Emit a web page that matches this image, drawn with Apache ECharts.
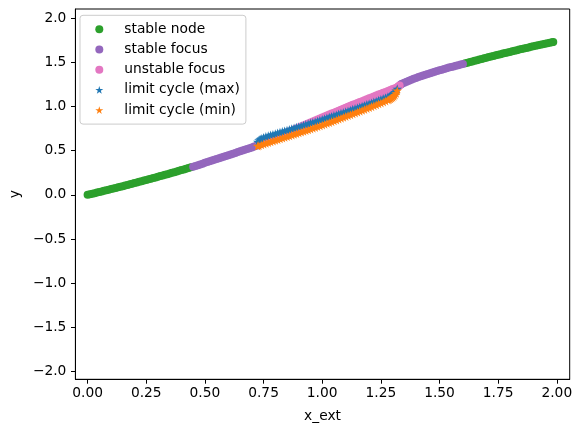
<!DOCTYPE html>
<html>
<head>
<meta charset="utf-8">
<script src="https://cdn.jsdelivr.net/npm/echarts@6/dist/echarts.min.js"></script>
<style>
html,body{margin:0;padding:0;background:#fff;}
#chart{width:582px;height:432px;}
</style>
</head>
<body>
<div id="chart"></div>
<script>
// ---- data ----
const stableNodeLow = [[0.00,0.000],[0.01,0.006],[0.02,0.013],[0.03,0.019],[0.04,0.025],[0.05,0.032],[0.06,0.038],[0.07,0.045],[0.08,0.052],[0.09,0.058],[0.10,0.065],[0.11,0.071],[0.12,0.078],[0.13,0.085],[0.14,0.092],[0.15,0.098],[0.16,0.105],[0.17,0.112],[0.18,0.119],[0.19,0.126],[0.20,0.133],[0.21,0.140],[0.22,0.147],[0.23,0.154],[0.24,0.161],[0.25,0.168],[0.26,0.176],[0.27,0.183],[0.28,0.190],[0.29,0.197],[0.30,0.205],[0.31,0.212],[0.32,0.220],[0.33,0.227],[0.34,0.234],[0.35,0.242],[0.36,0.250],[0.37,0.257],[0.38,0.265],[0.39,0.272],[0.40,0.280],[0.41,0.288],[0.42,0.295],[0.43,0.303],[0.44,0.311]];
const stableFocusLow = [[0.45,0.319],[0.46,0.327],[0.47,0.336],[0.48,0.344],[0.49,0.353],[0.50,0.362],[0.51,0.371],[0.52,0.379],[0.53,0.388],[0.54,0.396],[0.55,0.405],[0.56,0.413],[0.57,0.422],[0.58,0.431],[0.59,0.440],[0.60,0.448],[0.61,0.457],[0.62,0.466],[0.63,0.475],[0.64,0.484],[0.65,0.493],[0.66,0.501],[0.67,0.510],[0.68,0.519],[0.69,0.528],[0.70,0.537],[0.71,0.546],[0.72,0.555]];
const unstableFocus = [[0.73,0.566],[0.74,0.578],[0.75,0.589],[0.76,0.601],[0.77,0.612],[0.78,0.624],[0.79,0.635],[0.80,0.647],[0.81,0.658],[0.82,0.670],[0.83,0.681],[0.84,0.693],[0.85,0.704],[0.86,0.716],[0.87,0.727],[0.88,0.739],[0.89,0.750],[0.90,0.762],[0.91,0.773],[0.92,0.785],[0.93,0.796],[0.94,0.808],[0.95,0.819],[0.96,0.831],[0.97,0.842],[0.98,0.854],[0.99,0.865],[1.00,0.876],[1.01,0.887],[1.02,0.898],[1.03,0.909],[1.04,0.920],[1.05,0.931],[1.06,0.942],[1.07,0.953],[1.08,0.964],[1.09,0.975],[1.10,0.986],[1.11,0.997],[1.12,1.008],[1.13,1.019],[1.14,1.030],[1.15,1.040],[1.16,1.051],[1.17,1.061],[1.18,1.072],[1.19,1.082],[1.20,1.093],[1.21,1.103],[1.22,1.114],[1.23,1.124],[1.24,1.135],[1.25,1.145],[1.26,1.156],[1.27,1.166],[1.28,1.177],[1.29,1.187],[1.30,1.198],[1.31,1.208],[1.32,1.219],[1.325,1.229],[1.33,1.239]];
const limitCycleMax = [[0.725,0.600],[0.73,0.618],[0.735,0.630],[0.74,0.638],[0.75,0.650],[0.76,0.659],[0.77,0.668],[0.78,0.676],[0.79,0.684],[0.80,0.692],[0.81,0.700],[0.82,0.708],[0.83,0.716],[0.84,0.724],[0.85,0.732],[0.86,0.740],[0.87,0.748],[0.88,0.756],[0.89,0.764],[0.90,0.772],[0.91,0.780],[0.92,0.788],[0.93,0.796],[0.94,0.804],[0.95,0.812],[0.96,0.820],[0.97,0.828],[0.98,0.836],[0.99,0.845],[1.00,0.853],[1.01,0.862],[1.02,0.871],[1.03,0.880],[1.04,0.888],[1.05,0.897],[1.06,0.905],[1.07,0.914],[1.08,0.923],[1.09,0.932],[1.10,0.941],[1.11,0.950],[1.12,0.959],[1.13,0.968],[1.14,0.977],[1.15,0.986],[1.16,0.995],[1.17,1.004],[1.18,1.013],[1.19,1.022],[1.20,1.031],[1.21,1.041],[1.22,1.050],[1.23,1.060],[1.24,1.070],[1.25,1.080],[1.26,1.090],[1.27,1.100],[1.28,1.111],[1.29,1.122],[1.295,1.130],[1.30,1.140],[1.305,1.152],[1.31,1.165],[1.315,1.182],[1.32,1.200]];
const limitCycleMin = [[0.725,0.553],[0.73,0.558],[0.74,0.566],[0.75,0.575],[0.76,0.583],[0.77,0.592],[0.78,0.600],[0.79,0.609],[0.80,0.617],[0.81,0.626],[0.82,0.634],[0.83,0.643],[0.84,0.651],[0.85,0.660],[0.86,0.668],[0.87,0.677],[0.88,0.685],[0.89,0.694],[0.90,0.702],[0.91,0.711],[0.92,0.719],[0.93,0.728],[0.94,0.737],[0.95,0.746],[0.96,0.755],[0.97,0.764],[0.98,0.773],[0.99,0.782],[1.00,0.791],[1.01,0.800],[1.02,0.810],[1.03,0.819],[1.04,0.829],[1.05,0.838],[1.06,0.848],[1.07,0.858],[1.08,0.868],[1.09,0.878],[1.10,0.888],[1.11,0.898],[1.12,0.908],[1.13,0.918],[1.14,0.928],[1.15,0.938],[1.16,0.948],[1.17,0.958],[1.18,0.968],[1.19,0.978],[1.20,0.989],[1.21,0.999],[1.22,1.010],[1.23,1.020],[1.24,1.031],[1.25,1.041],[1.26,1.052],[1.27,1.063],[1.28,1.075],[1.285,1.081],[1.29,1.088],[1.295,1.096],[1.30,1.105],[1.305,1.116],[1.31,1.130],[1.315,1.150],[1.32,1.180]];
const stableFocusHigh = [[1.335,1.250],[1.34,1.258],[1.35,1.270],[1.36,1.282],[1.37,1.293],[1.38,1.304],[1.39,1.314],[1.40,1.324],[1.41,1.334],[1.42,1.343],[1.43,1.352],[1.44,1.361],[1.45,1.369],[1.46,1.378],[1.47,1.386],[1.48,1.394],[1.49,1.402],[1.50,1.410],[1.51,1.418],[1.52,1.426],[1.53,1.433],[1.54,1.441],[1.55,1.448],[1.56,1.455],[1.57,1.462],[1.58,1.469],[1.59,1.476],[1.60,1.483]];
const stableNodeHigh = [[1.61,1.490],[1.62,1.497],[1.63,1.504],[1.64,1.511],[1.65,1.518],[1.66,1.525],[1.67,1.532],[1.68,1.539],[1.69,1.546],[1.70,1.553],[1.71,1.560],[1.72,1.566],[1.73,1.573],[1.74,1.580],[1.75,1.587],[1.76,1.593],[1.77,1.600],[1.78,1.606],[1.79,1.613],[1.80,1.619],[1.81,1.626],[1.82,1.632],[1.83,1.639],[1.84,1.645],[1.85,1.652],[1.86,1.658],[1.87,1.664],[1.88,1.670],[1.89,1.676],[1.90,1.682],[1.91,1.688],[1.92,1.694],[1.93,1.700],[1.94,1.706],[1.95,1.712],[1.96,1.717],[1.97,1.723],[1.98,1.729],[1.985,1.732]];

const xTicks = [0.00,0.25,0.50,0.75,1.00,1.25,1.50,1.75,2.00];
const yTicks = [-2.0,-1.5,-1.0,-0.5,0.0,0.5,1.0,1.5,2.0];
const seriesNames = ['stable node','stable focus','unstable focus','limit cycle (max)','limit cycle (min)'];
const seriesColors = ['#2ca02c','#9467bd','#e377c2','#1f77b4','#ff7f0e'];

const STAR = 'path://M50,0 L61.23,34.55 L97.55,34.55 L68.16,55.9 L79.39,90.45 L50,69.1 L20.61,90.45 L31.84,55.9 L2.45,34.55 L38.77,34.55 Z';
const FONT = 'DejaVu Sans';
const FS = 13.8;

const chart = echarts.init(document.getElementById('chart'), null, {renderer:'canvas'});
const seriesData = [
  stableNodeLow.concat(stableNodeHigh),
  stableFocusLow.concat(stableFocusHigh),
  unstableFocus,
  limitCycleMax,
  limitCycleMin
];
const symbols = ['circle','circle','circle',STAR,STAR];
const sizes = [8,8,8,9.5,9.5];

const fmtMinus = (v, d) => { const s = Number(v).toFixed(d); return s.replace('-', '\u2212'); };

chart.setOption({
  animation:false,
  backgroundColor:'#fff',
  grid:{left:73.5, top:9, right:12.3, bottom:52.7, show:true, borderColor:'#000', borderWidth:1, containLabel:false},
  xAxis:{
    type:'value', min:-0.052, max:2.055,
    name:'x_ext', nameLocation:'middle', nameGap:30,
    nameTextStyle:{fontFamily:FONT, fontSize:FS, color:'#000'},
    axisLine:{show:true, onZero:false, lineStyle:{color:'#000', width:1}},
    axisTick:{show:true, length:4.4, lineStyle:{color:'#000'}, customValues:xTicks},
    axisLabel:{fontFamily:FONT, fontSize:FS, color:'#000', margin:7, customValues:xTicks, formatter:v=>fmtMinus(v,2)},
    splitLine:{show:false}
  },
  yAxis:{
    type:'value', min:-2.09, max:2.105,
    name:'y', nameLocation:'middle', nameGap:51,
    nameTextStyle:{fontFamily:FONT, fontSize:FS, color:'#000'},
    axisLine:{show:true, onZero:false, lineStyle:{color:'#000', width:1}},
    axisTick:{show:true, length:4.4, lineStyle:{color:'#000'}, customValues:yTicks},
    axisLabel:{fontFamily:FONT, fontSize:FS, color:'#000', margin:9, customValues:yTicks, formatter:v=>fmtMinus(v,1)},
    splitLine:{show:false}
  },
  legend:{
    orient:'vertical', left:80, top:15.3,
    data: seriesNames.map((n,i)=>({name:n, icon:symbols[i]})),
    itemWidth:8, itemHeight:8, itemGap:6.2,
    padding:[7,6,7,15.3],
    backgroundColor:'rgba(255,255,255,0.8)', borderColor:'#cccccc', borderWidth:1, borderRadius:3,
    textStyle:{fontFamily:FONT, fontSize:FS, color:'#000', padding:[0,0,0,16]},
    selectedMode:false
  },
  series: seriesNames.map((n,i)=>({
    name:n, type:'scatter', data:seriesData[i],
    symbol:symbols[i], symbolSize:sizes[i], symbolKeepAspect:true,
    itemStyle:{color:seriesColors[i], opacity:1},
    z:2+i
  }))
});
</script>
</body>
</html>
